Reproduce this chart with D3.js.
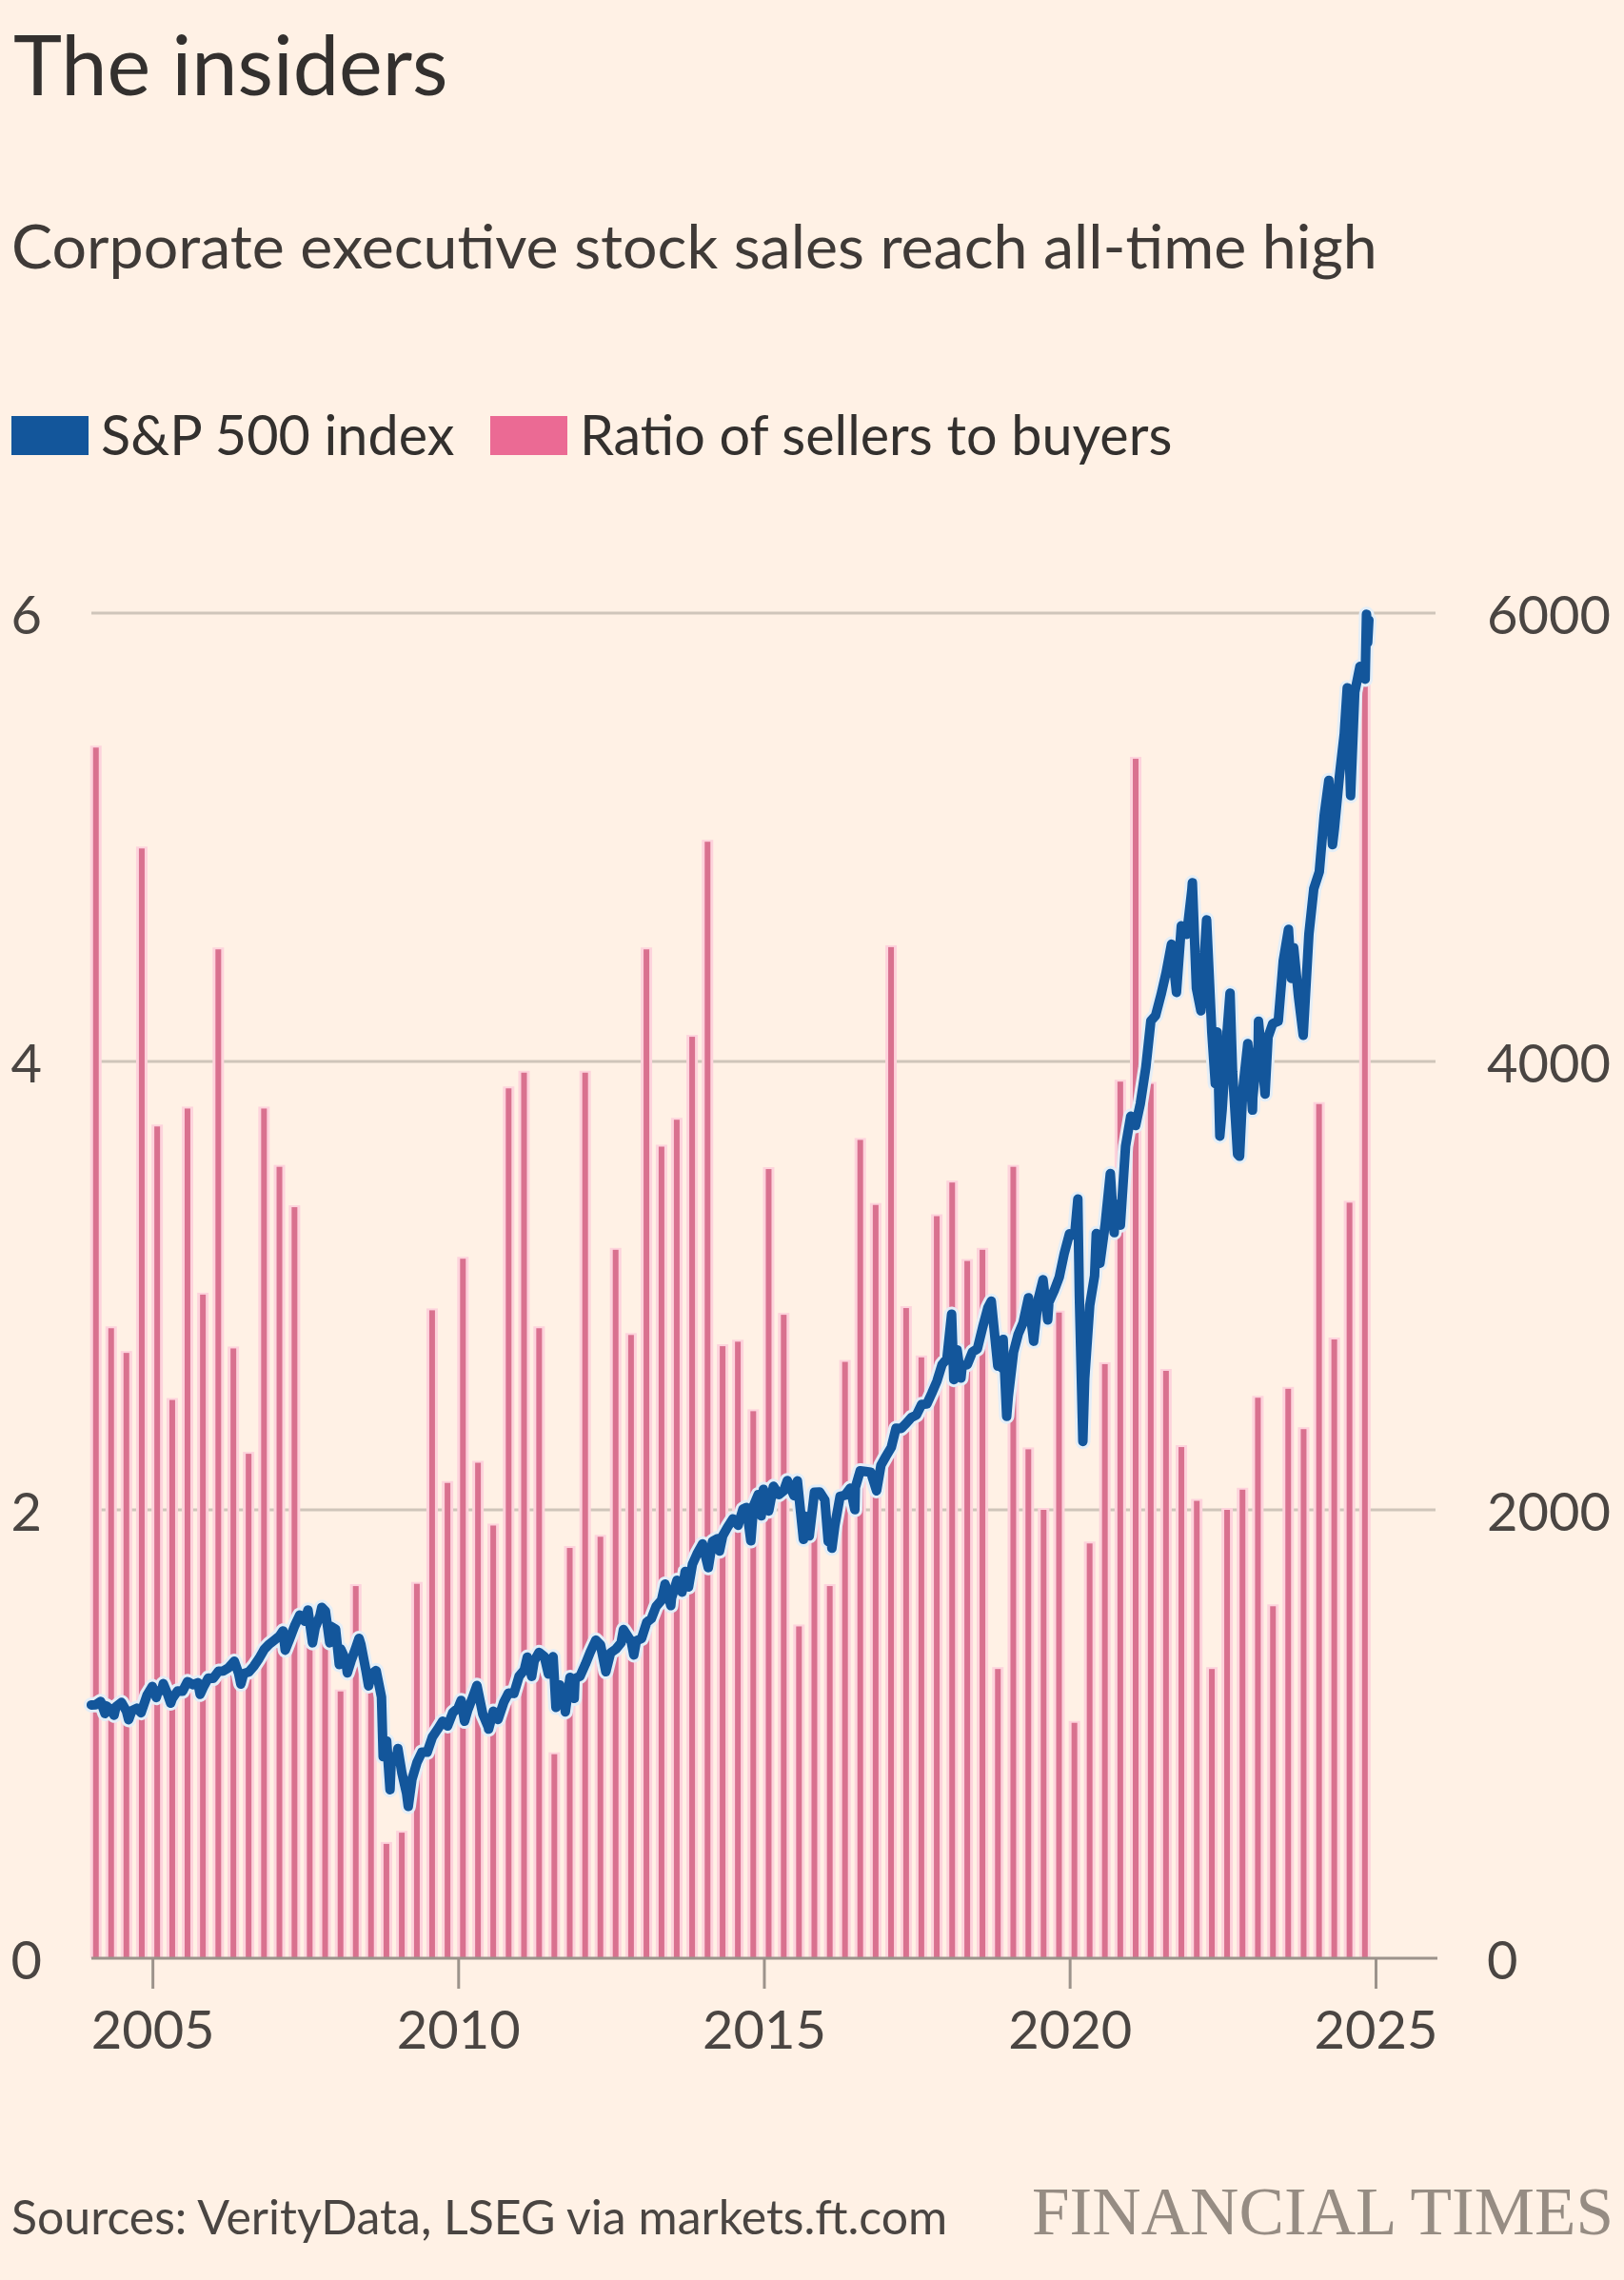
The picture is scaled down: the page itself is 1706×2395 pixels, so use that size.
<!DOCTYPE html>
<html><head><meta charset="utf-8">
<script src="https://cdn.jsdelivr.net/npm/d3@7"></script>
<style>
html,body{margin:0;padding:0;background:#FFF1E5;}
svg{display:block;}
</style></head><body>
<svg id="chart" width="1706" height="2395"></svg>
<script>
// ---------- DATA ----------
const quarters = [
"2004Q1","2004Q2","2004Q3","2004Q4","2005Q1","2005Q2","2005Q3","2005Q4",
"2006Q1","2006Q2","2006Q3","2006Q4","2007Q1","2007Q2","2007Q3","2007Q4",
"2008Q1","2008Q2","2008Q3","2008Q4","2009Q1","2009Q2","2009Q3","2009Q4",
"2010Q1","2010Q2","2010Q3","2010Q4","2011Q1","2011Q2","2011Q3","2011Q4",
"2012Q1","2012Q2","2012Q3","2012Q4","2013Q1","2013Q2","2013Q3","2013Q4",
"2014Q1","2014Q2","2014Q3","2014Q4","2015Q1","2015Q2","2015Q3","2015Q4",
"2016Q1","2016Q2","2016Q3","2016Q4","2017Q1","2017Q2","2017Q3","2017Q4",
"2018Q1","2018Q2","2018Q3","2018Q4","2019Q1","2019Q2","2019Q3","2019Q4",
"2020Q1","2020Q2","2020Q3","2020Q4","2021Q1","2021Q2","2021Q3","2021Q4",
"2022Q1","2022Q2","2022Q3","2022Q4","2023Q1","2023Q2","2023Q3","2023Q4",
"2024Q1","2024Q2","2024Q3","2024Q4"];
const sellerBuyerRatio = [
5.40,2.81,2.70,4.95,3.71,2.49,3.79,2.96,
4.50,2.72,2.25,3.79,3.53,3.35,1.39,1.40,
1.19,1.66,1.30,0.51,0.56,1.67,2.89,2.12,
3.12,2.21,1.93,3.88,3.95,2.81,0.91,1.83,
3.95,1.88,3.16,2.78,4.50,3.62,3.74,4.11,
4.98,2.73,2.75,2.44,3.52,2.87,1.48,2.00,
1.66,2.66,3.65,3.36,4.51,2.90,2.68,3.31,
3.46,3.11,3.16,1.29,3.53,2.27,2.00,2.88,
1.05,1.85,2.65,3.91,5.35,3.90,2.62,2.28,
2.04,1.29,2.00,2.09,2.50,1.57,2.54,2.36,
3.81,2.76,3.37,5.70];
const spxDates = [
"2004-01-02","2004-01-28","2004-02-27","2004-03-24","2004-03-31","2004-04-30","2004-05-17","2004-05-28","2004-06-30","2004-07-30","2004-08-12","2004-08-31","2004-09-30","2004-10-25","2004-11-30","2004-12-31",
"2005-01-24","2005-01-31","2005-02-28","2005-03-07","2005-03-31","2005-04-20","2005-04-29","2005-05-31","2005-06-30","2005-07-29","2005-08-31","2005-09-30","2005-10-13","2005-10-31","2005-11-30","2005-12-30",
"2006-01-31","2006-02-28","2006-03-31","2006-05-05","2006-05-31","2006-06-13","2006-06-30","2006-07-31","2006-08-31","2006-09-29","2006-10-31","2006-11-30","2006-12-29",
"2007-01-31","2007-02-20","2007-03-05","2007-03-30","2007-04-30","2007-05-31","2007-06-29","2007-07-19","2007-08-15","2007-08-31","2007-09-28","2007-10-09","2007-10-31","2007-11-26","2007-11-30","2007-12-31",
"2008-01-22","2008-01-31","2008-02-29","2008-03-10","2008-03-31","2008-04-30","2008-05-19","2008-05-30","2008-06-30","2008-07-15","2008-07-31","2008-08-29","2008-09-30","2008-10-10","2008-10-31","2008-11-20","2008-11-28","2008-12-31",
"2009-01-06","2009-01-30","2009-02-27","2009-03-09","2009-03-31","2009-04-30","2009-05-29","2009-06-30","2009-07-31","2009-08-31","2009-09-30","2009-10-30","2009-11-30","2009-12-31",
"2010-01-19","2010-02-08","2010-02-26","2010-03-31","2010-04-23","2010-05-28","2010-06-30","2010-07-02","2010-07-30","2010-08-27","2010-09-30","2010-10-29","2010-11-30","2010-12-31",
"2011-01-31","2011-02-18","2011-03-16","2011-03-31","2011-04-29","2011-05-31","2011-06-24","2011-06-30","2011-07-22","2011-08-08","2011-08-31","2011-09-30","2011-10-03","2011-10-31","2011-11-25","2011-11-30","2011-12-30",
"2012-01-31","2012-02-29","2012-04-02","2012-04-30","2012-06-01","2012-06-29","2012-07-31","2012-08-31","2012-09-14","2012-10-31","2012-11-15","2012-11-30","2012-12-31",
"2013-01-31","2013-02-28","2013-03-28","2013-04-30","2013-05-21","2013-06-24","2013-06-28","2013-07-31","2013-08-30","2013-09-18","2013-10-08","2013-10-31","2013-11-29","2013-12-31",
"2014-02-03","2014-02-28","2014-03-31","2014-04-11","2014-04-30","2014-05-30","2014-06-30","2014-07-31","2014-08-29","2014-09-19","2014-10-15","2014-10-31","2014-11-28","2014-12-16","2014-12-29",
"2015-01-30","2015-02-27","2015-03-31","2015-04-30","2015-05-21","2015-06-30","2015-07-20","2015-08-25","2015-08-31","2015-09-29","2015-10-30","2015-11-30","2015-12-31",
"2016-01-20","2016-01-29","2016-02-11","2016-02-29","2016-03-31","2016-04-29","2016-05-31","2016-06-27","2016-06-30","2016-07-29","2016-08-31","2016-09-30","2016-11-04","2016-11-30","2016-12-30",
"2017-01-31","2017-02-28","2017-03-31","2017-04-28","2017-05-31","2017-06-30","2017-07-31","2017-08-31","2017-09-29","2017-10-31","2017-11-30","2017-12-29",
"2018-01-26","2018-02-08","2018-02-28","2018-03-23","2018-03-30","2018-04-30","2018-05-31","2018-06-29","2018-07-31","2018-08-31","2018-09-20","2018-10-29","2018-10-31","2018-11-23","2018-11-30","2018-12-21","2018-12-31",
"2019-01-31","2019-02-28","2019-03-29","2019-04-30","2019-05-31","2019-06-28","2019-07-26","2019-08-23","2019-08-30","2019-09-30","2019-10-31","2019-11-29","2019-12-31",
"2020-01-31","2020-02-19","2020-02-28","2020-03-20","2020-03-31","2020-04-30","2020-05-29","2020-06-08","2020-06-30","2020-07-31","2020-08-31","2020-09-23","2020-09-30","2020-10-30","2020-11-30","2020-12-31",
"2021-01-29","2021-02-26","2021-03-31","2021-04-30","2021-05-28","2021-06-30","2021-07-30","2021-08-31","2021-09-30","2021-10-29","2021-11-30","2021-12-31",
"2022-01-03","2022-01-27","2022-02-23","2022-03-29","2022-04-29","2022-05-20","2022-05-31","2022-06-16","2022-06-30","2022-07-29","2022-08-16","2022-08-31","2022-09-30","2022-10-12","2022-10-31","2022-11-30","2022-12-28","2022-12-30",
"2023-01-31","2023-02-02","2023-02-28","2023-03-13","2023-03-31","2023-04-28","2023-05-31","2023-06-30","2023-07-31","2023-08-18","2023-08-31","2023-09-29","2023-10-27","2023-11-30","2023-12-29",
"2024-01-31","2024-02-29","2024-03-28","2024-04-19","2024-04-30","2024-05-31","2024-06-28","2024-07-16","2024-08-05","2024-08-30","2024-09-30","2024-10-31","2024-11-08","2024-11-15","2024-11-22"];
const spxValues = [
1130,1131,1145,1091,1126,1107,1084,1121,1141,1102,1064,1104,1115,1095,1174,1212,
1163,1181,1204,1225,1181,1138,1157,1192,1191,1234,1220,1229,1177,1207,1249,1248,
1280,1281,1295,1325,1270,1223,1270,1277,1304,1336,1378,1401,1418,
1438,1460,1374,1421,1482,1531,1503,1553,1407,1474,1527,1565,1549,1407,1481,1468,
1310,1379,1331,1273,1323,1386,1427,1400,1280,1215,1267,1283,1165,899,969,752,896,903,
935,826,735,677,798,873,919,919,987,1021,1057,1036,1096,1115,
1150,1057,1104,1169,1217,1089,1031,1022,1102,1065,1141,1183,1181,1258,
1286,1343,1257,1326,1364,1345,1268,1321,1345,1119,1219,1131,1099,1253,1159,1247,1258,
1312,1366,1419,1398,1278,1362,1379,1407,1466,1412,1353,1416,1426,
1498,1515,1569,1598,1669,1573,1606,1686,1633,1725,1656,1757,1806,1848,
1742,1859,1872,1816,1884,1924,1960,1931,2003,2011,1862,2018,2068,1973,2091,
1995,2105,2068,2086,2131,2063,2129,1868,1972,1884,2079,2080,2044,
1859,1940,1829,1932,2060,2065,2097,2001,2099,2174,2171,2168,2085,2199,2239,
2279,2364,2363,2384,2412,2423,2470,2472,2519,2575,2648,2674,
2873,2581,2714,2588,2641,2648,2705,2718,2816,2902,2931,2641,2712,2633,2760,2417,2507,
2704,2784,2834,2946,2752,2942,3026,2847,2926,2977,3038,3141,3231,
3226,3386,2954,2305,2585,2912,3044,3232,3100,3271,3500,3237,3363,3270,3622,3756,
3714,3811,3973,4181,4204,4298,4395,4523,4308,4605,4567,4766,
4797,4327,4226,4632,4132,3901,4132,3667,3785,4130,4305,3955,3586,3577,3872,4080,3783,3840,
4077,4179,3970,3855,4109,4169,4180,4450,4589,4370,4508,4288,4117,4568,4770,
4846,5096,5254,4967,5036,5278,5460,5667,5186,5648,5762,5705,5995,5870,5969];
const leftTicks = [0,2,4,6];
const rightTicks = [0,2000,4000,6000];
const yearTicks = [2005,2010,2015,2020,2025];
const legendItems = ["S&P 500 index","Ratio of sellers to buyers"];

// ---------- CHART ----------
const SANS = "Lato, 'Noto Sans', sans-serif";
const svg = d3.select("#chart");
svg.append("rect").attr("width",1706).attr("height",2395).attr("fill","#FFF1E5");

const parseDate = d3.utcParse("%Y-%m-%d");
const x = d3.scaleUtc().domain([Date.UTC(2004,0,1), Date.UTC(2025,0,1)]).range([95.75, 1445]);
const yL = d3.scaleLinear().domain([0,6]).range([2057,644]);
const yR = d3.scaleLinear().domain([0,6000]).range([2057,644]);

// Titles
svg.append("text").attr("x",14).attr("y",100).style("font-family",SANS).style("font-size","86.5px")
  .attr("fill","#33302E").text("The insiders");
svg.append("text").attr("x",12).attr("y",282).style("font-family",SANS).style("font-size","64.5px")
  .attr("fill","#3F3A37").text("Corporate executive stock sales reach all-time high");

// Legend
const legColors = ["#13569B","#EB6A94"];
const legX = [12,515];
legendItems.forEach((t,i)=>{
  svg.append("rect").attr("x",legX[i]).attr("y",437).attr("width",81).attr("height",41).attr("fill",legColors[i]);
  svg.append("text").attr("x",legX[i]+94).attr("y",478).style("font-family",SANS).style("font-size","57.5px")
    .attr("fill","#33302E").text(t);
});

// Gridlines
svg.append("g").selectAll("line").data(leftTicks.filter(d=>d>0)).join("line")
  .attr("x1",96).attr("x2",1508).attr("y1",d=>yL(d)).attr("y2",d=>yL(d))
  .attr("stroke","#CFC5BA").attr("stroke-width",3);

// Bars
const qDate = q => Date.UTC(+q.slice(0,4), (+q.slice(5)-1)*3, 1);
const barData = quarters.map((q,i)=>({d:qDate(q), v:sellerBuyerRatio[i]}));
const gb = svg.append("g");
gb.selectAll("rect.halo").data(barData).join("rect").attr("class","halo")
  .attr("x",d=>x(d.d)+5-6).attr("width",12)
  .attr("y",d=>yL(d.v)-2).attr("height",d=>yL(0)-yL(d.v)+2)
  .attr("fill","#FDD3DC");
gb.selectAll("rect.bar").data(barData).join("rect").attr("class","bar")
  .attr("x",d=>x(d.d)+5-3).attr("width",6)
  .attr("y",d=>yL(d.v)).attr("height",d=>yL(0)-yL(d.v))
  .attr("fill","#D9718F");

// Baseline
svg.append("line").attr("x1",96).attr("x2",1510).attr("y1",yL(0)).attr("y2",yL(0))
  .attr("stroke","#9C938B").attr("stroke-width",3);

// S&P line
const spx = spxDates.map((d,i)=>({d:parseDate(d), v:spxValues[i]}));
const line = d3.line().x(d=>x(d.d)).y(d=>yR(d.v));
svg.append("path").datum(spx).attr("d",line).attr("fill","none")
  .attr("stroke","#E4EEF7").attr("stroke-width",16).attr("stroke-linejoin","round").attr("stroke-linecap","round");
svg.append("path").datum(spx).attr("d",line).attr("fill","none")
  .attr("stroke","#13569B").attr("stroke-width",10).attr("stroke-linejoin","round").attr("stroke-linecap","round");

// X axis
const xAxis = d3.axisBottom(x)
  .tickValues(yearTicks.map(y=>Date.UTC(y,0,1)))
  .tickFormat(d=>d3.utcFormat("%Y")(d))
  .tickSize(32).tickPadding(23);
const gx = svg.append("g").attr("transform",`translate(0,${yL(0)})`).call(xAxis);
gx.select(".domain").remove();
gx.selectAll(".tick line").attr("stroke","#9C938B").attr("stroke-width",3);
gx.selectAll(".tick text").style("font-size","56px").attr("fill","#4A4542").style("font-family",SANS);

// Left axis labels
const yAxisL = d3.axisLeft(yL).tickValues(leftTicks).tickSize(0).tickPadding(0).tickFormat(d3.format("d"));
const gl = svg.append("g").attr("transform","translate(44,0)").call(yAxisL);
gl.select(".domain").remove();
gl.selectAll(".tick text").style("font-size","56px").attr("fill","#4A4542").style("font-family",SANS).attr("dy","0.38em");

// Right axis labels
const yAxisR = d3.axisRight(yR).tickValues(rightTicks).tickSize(0).tickPadding(0).tickFormat(d3.format("d"));
const gr = svg.append("g").attr("transform","translate(1562,0)").call(yAxisR);
gr.select(".domain").remove();
gr.selectAll(".tick text").style("font-size","56px").attr("fill","#4A4542").style("font-family",SANS).attr("dy","0.38em");

// Footer
svg.append("text").attr("x",12).attr("y",2347).style("font-family",SANS).style("font-size","50px").attr("fill","#4A4542")
  .text("Sources: VerityData, LSEG via markets.ft.com");
svg.append("text").attr("x",1084).attr("y",2347).style("font-family","'Liberation Serif','DejaVu Serif',serif")
  .style("font-size","72px").attr("fill","#968C83")
  .attr("textLength",611).attr("lengthAdjust","spacingAndGlyphs").text("FINANCIAL TIMES");
</script>
</body></html>
